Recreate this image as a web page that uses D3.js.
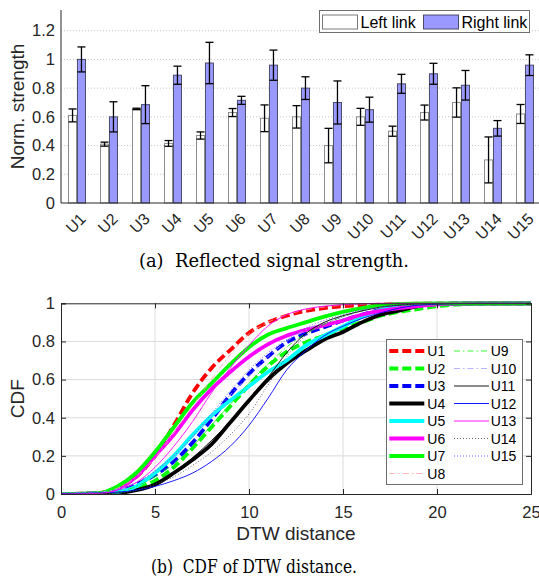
<!DOCTYPE html>
<html lang='en'>
<head>
	<meta charset='utf-8'>
	<title>Reflected signal strength / CDF of DTW distance</title>
	<script src="https://d3js.org/d3.v7.min.js"></script>
	<style>
		body{margin:0;background:#fff;}
		svg{display:block;font-family:'Liberation Sans',Arial,sans-serif;}
	</style>
</head>
<body>
<div id='chart'></div>
<script type='text/javascript'>
	// ---------- (a) reflected signal strength ----------
	const users = ["U1","U2","U3","U4","U5","U6","U7","U8","U9","U10","U11","U12","U13","U14","U15"];
	const leftMean  = [0.61,0.41,0.655,0.415,0.47,0.63,0.59,0.60,0.40,0.60,0.50,0.63,0.70,0.30,0.62];
	const leftErr   = [0.045,0.014,0.005,0.02,0.025,0.028,0.093,0.078,0.12,0.059,0.035,0.052,0.102,0.16,0.066];
	const rightMean = [1.0,0.60,0.685,0.89,0.975,0.715,0.96,0.80,0.70,0.65,0.83,0.90,0.82,0.52,0.96];
	const rightErr  = [0.087,0.105,0.132,0.063,0.144,0.028,0.105,0.079,0.15,0.087,0.066,0.073,0.103,0.054,0.072];
	const barTicks  = [0,0.2,0.4,0.6,0.8,1,1.2];
	const linkNames = ["Left link","Right link"];

	// ---------- (b) CDF of DTW distance ----------
	const dtwGrid = [0,2,3,4,5,6,7,8,9,10,11,12,13,14,15,16,17,18,19,20,22,25];
	const cdfU1  = [0,0.005,0.03,0.09,0.2,0.36,0.53,0.66,0.755,0.845,0.9,0.935,0.96,0.975,0.985,0.99,0.993,0.996,0.998,1,1,1];
	const cdfU2  = [0,0.002,0.01,0.03,0.07,0.14,0.24,0.35,0.46,0.57,0.67,0.745,0.795,0.83,0.87,0.9,0.935,0.955,0.97,0.985,0.997,1];
	const cdfU3  = [0,0.003,0.015,0.05,0.1,0.17,0.27,0.39,0.52,0.63,0.72,0.795,0.84,0.875,0.91,0.94,0.965,0.98,0.99,0.995,1,1];
	const cdfU4  = [0,0.001,0.005,0.02,0.05,0.11,0.18,0.26,0.375,0.49,0.6,0.685,0.75,0.81,0.85,0.9,0.94,0.962,0.985,0.997,1,1];
	const cdfU5  = [0,0.002,0.01,0.04,0.11,0.2,0.31,0.41,0.49,0.565,0.64,0.70,0.777,0.83,0.878,0.93,0.965,0.985,0.995,0.998,1,1];
	const cdfU6  = [0,0.003,0.03,0.09,0.2,0.31,0.44,0.55,0.64,0.72,0.785,0.83,0.86,0.885,0.91,0.94,0.96,0.975,0.985,0.995,1,1];
	const cdfU7  = [0,0.005,0.04,0.11,0.22,0.35,0.48,0.58,0.68,0.77,0.835,0.87,0.9,0.93,0.955,0.975,0.99,0.997,1,1,1,1];
	const cdfU8  = [0,0.005,0.03,0.09,0.19,0.32,0.46,0.6,0.73,0.84,0.9,0.94,0.965,0.98,0.99,0.995,1,1,1,1,1,1];
	const cdfU9  = [0,0.002,0.01,0.04,0.09,0.16,0.25,0.36,0.47,0.58,0.68,0.77,0.84,0.89,0.93,0.96,0.98,0.99,0.997,1,1,1];
	const cdfU10 = [0.005,0.01,0.025,0.06,0.12,0.2,0.3,0.41,0.52,0.62,0.72,0.8,0.86,0.9,0.93,0.96,0.98,0.99,0.995,1,1,1];
	const cdfU11 = [0,0.002,0.005,0.02,0.05,0.11,0.19,0.28,0.38,0.49,0.61,0.74,0.84,0.9,0.935,0.96,0.98,0.99,0.997,0.999,1,1];
	const cdfU12 = [0.003,0.006,0.01,0.02,0.04,0.07,0.11,0.17,0.25,0.36,0.5,0.65,0.75,0.83,0.88,0.92,0.95,0.975,0.99,0.995,1,1];
	const cdfU13 = [0,0.003,0.02,0.06,0.14,0.25,0.38,0.53,0.66,0.78,0.88,0.94,0.97,0.985,0.993,0.997,1,1,1,1,1,1];
	const cdfU14 = [0,0.002,0.005,0.02,0.05,0.09,0.15,0.22,0.31,0.42,0.57,0.72,0.83,0.89,0.93,0.96,0.98,0.99,0.995,1,1,1];
	const cdfU15 = [0.005,0.01,0.025,0.06,0.12,0.2,0.3,0.42,0.54,0.65,0.74,0.81,0.87,0.91,0.94,0.965,0.98,0.99,0.995,1,1,1];
	const cdfSeries = [cdfU1,cdfU2,cdfU3,cdfU4,cdfU5,cdfU6,cdfU7,cdfU8,cdfU9,cdfU10,cdfU11,cdfU12,cdfU13,cdfU14,cdfU15];
	const dtwTicks = [0,5,10,15,20,25];
	const cdfTicks = [0,0.2,0.4,0.6,0.8,1];

	// line styles (MATLAB-ish)
	const lineStyles = [
		{c:'#ff0000',w:3.8,d:'9,4'},
		{c:'#00ff00',w:3.8,d:'9,4'},
		{c:'#0000ff',w:3.8,d:'9,4'},
		{c:'#000000',w:3.8,d:null},
		{c:'#00ffff',w:3.8,d:null},
		{c:'#ff00ff',w:3.8,d:null},
		{c:'#00ff00',w:3.8,d:null},
		{c:'#ff9f9f',w:0.8,d:'6,3,1.5,3'},
		{c:'#00ff00',w:0.8,d:'6,3,1.5,3'},
		{c:'#9f9fff',w:0.8,d:'6,3,1.5,3'},
		{c:'#000000',w:0.9,d:null},
		{c:'#0000ff',w:0.9,d:null},
		{c:'#ff00ff',w:0.9,d:null},
		{c:'#555555',w:0.9,d:'1,2'},
		{c:'#5555ff',w:0.9,d:'1,2'}
	];

	const axisColor = '#262626';
	const svg = d3.select('#chart').append('svg')
		.attr('width',539)
		.attr('height',582);

	// ================= chart (a) =================
	const pa = {left:61,right:541,top:10,bottom:203};

	const x0 = d3.scaleBand()
		.domain(users)
		.range([pa.left,pa.right])
		.paddingInner(0.47)
		.paddingOuter(0.235);
	const x1 = d3.scaleBand()
		.domain(linkNames)
		.range([0,x0.bandwidth()])
		.paddingInner(0.1);
	const ya = d3.scaleLinear()
		.domain([0,1.2])
		.range([pa.bottom,30.7]);

	// dotted grid
	svg.append('g')
		.selectAll('line')
		.data(barTicks.slice(1))
		.enter().append('line')
			.attr('x1',pa.left).attr('x2',pa.right)
			.attr('y1',d=>ya(d)).attr('y2',d=>ya(d))
			.attr('stroke','#c8c8c8')
			.attr('stroke-dasharray','1,2');

	// bars
	const barData = users.map((u,i)=>[
		{user:u,key:linkNames[0],v:leftMean[i],e:leftErr[i]},
		{user:u,key:linkNames[1],v:rightMean[i],e:rightErr[i]}
	]);
	const groups = svg.append('g')
		.selectAll('g')
		.data(barData)
		.enter().append('g')
			.attr('transform',d=>`translate(${x0(d[0].user)},0)`);

	groups.selectAll('rect')
		.data(d=>d)
		.enter().append('rect')
			.attr('x',d=>x1(d.key))
			.attr('y',d=>ya(d.v))
			.attr('width',x1.bandwidth())
			.attr('height',d=>ya(0)-ya(d.v))
			.attr('fill',d=>d.key===linkNames[0]?'#ffffff':'#9999ff')
			.attr('stroke',d=>d.key===linkNames[0]?'#8c8c8c':'#4a4a6a')
			.attr('stroke-width',1);

	// error bars
	const err = groups.selectAll('g.err')
		.data(d=>d)
		.enter().append('g')
			.attr('class','err')
			.attr('stroke','#000')
			.attr('stroke-width',1.3);
	err.append('line')
		.attr('x1',d=>x1(d.key)+x1.bandwidth()/2)
		.attr('x2',d=>x1(d.key)+x1.bandwidth()/2)
		.attr('y1',d=>ya(d.v+d.e))
		.attr('y2',d=>ya(d.v-d.e));
	err.append('line')
		.attr('x1',d=>x1(d.key)).attr('x2',d=>x1(d.key)+x1.bandwidth())
		.attr('y1',d=>ya(d.v+d.e)).attr('y2',d=>ya(d.v+d.e));
	err.append('line')
		.attr('x1',d=>x1(d.key)).attr('x2',d=>x1(d.key)+x1.bandwidth())
		.attr('y1',d=>ya(d.v-d.e)).attr('y2',d=>ya(d.v-d.e));

	// axes
	const yAxisA = svg.append('g')
		.attr('transform',`translate(${pa.left},0)`)
		.call(d3.axisLeft(ya).tickValues(barTicks).tickFormat(d3.format('~g')).tickSize(0).tickPadding(6));
	yAxisA.select('.domain').remove();
	yAxisA.selectAll('text').style('font-size','16.5px').attr('fill',axisColor);

	const xAxisA = svg.append('g')
		.attr('transform',`translate(0,${pa.bottom})`)
		.call(d3.axisBottom(x0).tickSize(0));
	xAxisA.select('.domain').remove();
	xAxisA.selectAll('text')
		.attr('y',0).attr('dy',null)
		.attr('dominant-baseline','central')
		.style('text-anchor','end')
		.style('font-size','16px')
		.attr('fill',axisColor)
		.attr('transform','translate(6,13) rotate(-45)');

	svg.append('line')
		.attr('x1',pa.left).attr('x2',pa.left)
		.attr('y1',pa.top).attr('y2',pa.bottom)
		.attr('stroke',axisColor);
	svg.append('line')
		.attr('x1',pa.left).attr('x2',pa.right)
		.attr('y1',pa.bottom).attr('y2',pa.bottom)
		.attr('stroke',axisColor);

	svg.append('text')
		.attr('transform',`translate(17,${(pa.top+pa.bottom)/2}) rotate(-90)`)
		.attr('dominant-baseline','central')
		.style('text-anchor','middle')
		.style('font-size','19px')
		.attr('fill',axisColor)
		.text('Norm. strength');

	// legend (a)
	const legA = svg.append('g');
	legA.append('rect')
		.attr('x',319.5).attr('y',10.5).attr('width',210).attr('height',22)
		.attr('fill','#fff').attr('stroke','#6e6e6e');
	const legAx = [322.5,423.5];
	linkNames.forEach(function(n,i){
		legA.append('rect')
			.attr('x',legAx[i]).attr('y',15).attr('width',35).attr('height',14)
			.attr('fill',i===0?'#fff':'#9999ff')
			.attr('stroke',i===0?'#7a7a7a':'#4a4a6a');
		legA.append('text')
			.attr('x',legAx[i]+38).attr('y',22)
			.attr('dominant-baseline','central')
			.style('font-size','16px')
			.attr('fill','#000')
			.text(n);
	});

	svg.append('text')
		.attr('x',274).attr('y',267)
		.style('text-anchor','middle')
		.style('font-family',"'DejaVu Serif',serif")
		.style('font-size','18.5px')
		.attr('textLength',270)
		.attr('lengthAdjust','spacingAndGlyphs')
		.text('(a)\u00a0 Reflected signal strength.');

	// ================= chart (b) =================
	const pb = {left:61,right:531,top:303.3,bottom:494};
	const xb = d3.scaleLinear().domain([0,25]).range([pb.left,pb.right]);
	const yb = d3.scaleLinear().domain([0,1]).range([pb.bottom,pb.top]);

	// grid
	const gridB = svg.append('g').attr('stroke','#dcdcdc').attr('stroke-width',1);
	gridB.selectAll('line.v')
		.data(dtwTicks.slice(1,-1))
		.enter().append('line')
			.attr('x1',d=>xb(d)).attr('x2',d=>xb(d))
			.attr('y1',pb.top).attr('y2',pb.bottom);
	gridB.selectAll('line.h')
		.data(cdfTicks.slice(1,-1))
		.enter().append('line')
			.attr('x1',pb.left).attr('x2',pb.right)
			.attr('y1',d=>yb(d)).attr('y2',d=>yb(d));

	svg.append('clipPath').attr('id','clipb')
		.append('rect')
			.attr('x',pb.left).attr('y',pb.top-2)
			.attr('width',pb.right-pb.left).attr('height',pb.bottom-pb.top+2);

	const line = d3.line()
		.x(d=>xb(d[0]))
		.y(d=>yb(d[1]))
		.curve(d3.curveMonotoneX);

	svg.append('g')
		.attr('clip-path','url(#clipb)')
		.selectAll('path')
		.data(cdfSeries)
		.enter().append('path')
			.attr('d',s=>line(dtwGrid.map((x,i)=>[x,s[i]])))
			.attr('fill','none')
			.attr('stroke',(s,i)=>lineStyles[i].c)
			.attr('stroke-width',(s,i)=>lineStyles[i].w)
			.attr('stroke-dasharray',(s,i)=>lineStyles[i].d);

	// axes with inward ticks
	const xAxisB = svg.append('g')
		.attr('transform',`translate(0,${pb.bottom})`)
		.call(d3.axisBottom(xb).tickValues(dtwTicks).tickSize(-5).tickPadding(12));
	const yAxisB = svg.append('g')
		.attr('transform',`translate(${pb.left},0)`)
		.call(d3.axisLeft(yb).tickValues(cdfTicks).tickFormat(d3.format('~g')).tickSize(-5).tickPadding(6));
	svg.append('g')
		.attr('transform',`translate(0,${pb.top})`)
		.call(d3.axisTop(xb).tickValues(dtwTicks).tickSize(-5).tickFormat(''));
	svg.append('g')
		.attr('transform',`translate(${pb.right},0)`)
		.call(d3.axisRight(yb).tickValues(cdfTicks).tickSize(-5).tickFormat(''));
	svg.selectAll('.domain, .tick line').attr('stroke',axisColor);
	[xAxisB,yAxisB].forEach(a=>a.selectAll('text').style('font-size','16.5px').attr('fill',axisColor));

	svg.append('text')
		.attr('x',(pb.left+pb.right)/2).attr('y',540)
		.style('text-anchor','middle')
		.style('font-size','19px')
		.attr('fill',axisColor)
		.text('DTW distance');
	svg.append('text')
		.attr('transform',`translate(17,${(pb.top+pb.bottom)/2}) rotate(-90)`)
		.attr('dominant-baseline','central')
		.style('text-anchor','middle')
		.style('font-size','19px')
		.attr('fill',axisColor)
		.text('CDF');

	// legend (b)
	const legB = svg.append('g');
	legB.append('rect')
		.attr('x',386.5).attr('y',339.5).attr('width',136).attr('height',145)
		.attr('fill','#fff').attr('stroke','#6e6e6e');
	users.forEach(function(u,i){
		const col = i<8?0:1, row = i<8?i:i-8;
		const lx = col===0?389.3:454, tx = col===0?427.3:490.7;
		const ly = 351+17.5*row;
		legB.append('line')
			.attr('x1',lx).attr('x2',lx+35)
			.attr('y1',ly).attr('y2',ly)
			.attr('stroke',lineStyles[i].c)
			.attr('stroke-width',lineStyles[i].w)
			.attr('stroke-dasharray',lineStyles[i].d);
		legB.append('text')
			.attr('x',tx).attr('y',ly)
			.attr('dominant-baseline','central')
			.style('font-size','14px')
			.attr('fill','#000')
			.text(u);
	});

	svg.append('text')
		.attr('x',254).attr('y',573)
		.style('text-anchor','middle')
		.style('font-family',"'DejaVu Serif',serif")
		.style('font-size','18.5px')
		.attr('textLength',206)
		.attr('lengthAdjust','spacingAndGlyphs')
		.text('(b)\u00a0 CDF of DTW distance.');
</script>
</body>
</html>
